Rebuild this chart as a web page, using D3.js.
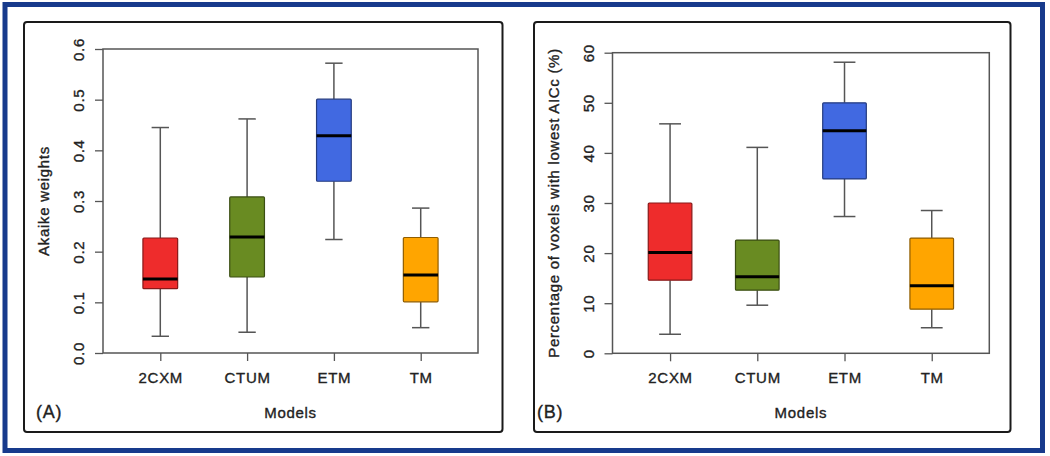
<!DOCTYPE html>
<html>
<head>
<meta charset="utf-8">
<script src="https://cdn.jsdelivr.net/npm/d3@7/dist/d3.min.js"></script>
<style>
  html, body { margin: 0; padding: 0; background: #fff; }
  svg text { font-family: "Liberation Sans", Arial, sans-serif; fill: #222; stroke: #222; stroke-width: 0.35px; letter-spacing: 0.7px; }
</style>
</head>
<body>
<svg id="chart" width="1050" height="456"></svg>
<script>
// ---- Data ----
const categories = ["2CXM", "CTUM", "ETM", "TM"];
const colors = ["#EE2C2C", "#698B22", "#4169E1", "#FFA500"];

// Panel A: Akaike weights  [lowerWhisker, Q1, median, Q3, upperWhisker]
const akaikeLow    = [0.033, 0.041, 0.224, 0.050];
const akaikeQ1     = [0.127, 0.150, 0.339, 0.101];
const akaikeMedian = [0.146, 0.229, 0.429, 0.154];
const akaikeQ3     = [0.227, 0.308, 0.501, 0.228];
const akaikeHigh   = [0.445, 0.462, 0.572, 0.286];
const akaikeTicks  = [0.0, 0.1, 0.2, 0.3, 0.4, 0.5, 0.6];

// Panel B: Percentage of voxels with lowest AICc (%)
const pctLow    = [3.8, 9.6, 27.3, 5.1];
const pctQ1     = [14.6, 12.6, 34.8, 8.8];
const pctMedian = [20.1, 15.3, 44.4, 13.5];
const pctQ3     = [30.0, 22.6, 50.0, 23.0];
const pctHigh   = [45.8, 41.1, 58.1, 28.5];
const pctTicks  = [0, 10, 20, 30, 40, 50, 60];

const svg = d3.select("#chart");

// Outer navy frame
svg.append("rect")
  .attr("x", 5).attr("y", 4.5).attr("width", 1037.5).attr("height", 446)
  .attr("fill", "none").attr("stroke", "#173a8c").attr("stroke-width", 5);

function panel(cfg) {
  const g = svg.append("g");
  // panel frame
  g.append("rect")
    .attr("x", cfg.frame[0]).attr("y", cfg.frame[1])
    .attr("width", cfg.frame[2] - cfg.frame[0]).attr("height", cfg.frame[3] - cfg.frame[1])
    .attr("rx", 3).attr("fill", "none").attr("stroke", "#1a1a1a").attr("stroke-width", 2);

  const [pl, pt, pr, pb] = cfg.plot;
  const x = d3.scaleLinear().domain([0.34, 4.66]).range([pl, pr]);
  const y = d3.scaleLinear().domain(cfg.domain).range([pb, pt]);

  // plot box
  g.append("rect")
    .attr("x", pl).attr("y", pt).attr("width", pr - pl).attr("height", pb - pt)
    .attr("fill", "none").attr("stroke", "#555").attr("stroke-width", 1.5);

  // y axis
  const yAxis = g.append("g").attr("transform", `translate(${pl},0)`)
    .call(d3.axisLeft(y).tickValues(cfg.ticks).tickSize(8).tickFormat(cfg.fmt));
  yAxis.select(".domain").remove();
  yAxis.selectAll(".tick line").attr("stroke", "#555").attr("stroke-width", 1.3);
  yAxis.selectAll(".tick text")
    .attr("x", null).attr("dy", null)
    .attr("transform", `translate(${cfg.tickLabelX - pl},0) rotate(-90)`)
    .attr("text-anchor", "middle").attr("dominant-baseline", "central")
    .style("font-size", "15px");

  // x axis (ticks only, offset below)
  const xAxis = g.append("g").attr("transform", `translate(0,${pb})`)
    .call(d3.axisBottom(x).tickValues([1, 2, 3, 4]).tickSize(8)
      .tickFormat((d) => categories[d - 1]));
  xAxis.select(".domain").remove();
  xAxis.selectAll(".tick line").attr("stroke", "#555").attr("stroke-width", 1.3);
  xAxis.selectAll(".tick text").attr("y", 24.5).attr("dy", null)
    .attr("dominant-baseline", "central")
    .style("font-size", "15px");

  const unit = x(2) - x(1);
  const bw = cfg.boxwex * unit;
  const sw = bw * 0.5;

  categories.forEach((c, i) => {
    const cx = x(i + 1);
    const d = { lo: cfg.low[i], q1: cfg.q1[i], med: cfg.med[i], q3: cfg.q3[i], hi: cfg.high[i] };
    // whiskers
    g.append("line").attr("x1", cx).attr("x2", cx).attr("y1", y(d.q3)).attr("y2", y(d.hi))
      .attr("stroke", "#555").attr("stroke-width", 1.5);
    g.append("line").attr("x1", cx).attr("x2", cx).attr("y1", y(d.q1)).attr("y2", y(d.lo))
      .attr("stroke", "#555").attr("stroke-width", 1.5);
    // staples
    g.append("line").attr("x1", cx - sw / 2).attr("x2", cx + sw / 2).attr("y1", y(d.hi)).attr("y2", y(d.hi))
      .attr("stroke", "#555").attr("stroke-width", 1.5);
    g.append("line").attr("x1", cx - sw / 2).attr("x2", cx + sw / 2).attr("y1", y(d.lo)).attr("y2", y(d.lo))
      .attr("stroke", "#555").attr("stroke-width", 1.5);
    // box
    g.append("rect").attr("x", cx - bw / 2).attr("y", y(d.q3))
      .attr("width", bw).attr("height", y(d.q1) - y(d.q3))
      .attr("rx", 1)
      .attr("fill", colors[i]).attr("stroke", d3.color(colors[i]).darker(1.6)).attr("stroke-width", 1.2);
    // median
    g.append("line").attr("x1", cx - bw / 2).attr("x2", cx + bw / 2)
      .attr("y1", y(d.med)).attr("y2", y(d.med))
      .attr("stroke", "#000").attr("stroke-width", 3);
  });

  // axis titles
  g.append("text")
    .attr("transform", `translate(${cfg.yTitleX},${(pt + pb) / 2}) rotate(-90)`)
    .attr("text-anchor", "middle").attr("dominant-baseline", "central")
    .style("font-size", "15px").text(cfg.yTitle);
  g.append("text")
    .attr("x", (pl + pr) / 2).attr("y", 412)
    .attr("text-anchor", "middle").attr("dominant-baseline", "central")
    .style("font-size", "15px").text("Models");
  g.append("text")
    .attr("x", cfg.labelX).attr("y", 412)
    .attr("dominant-baseline", "central")
    .style("font-size", "18px").text(cfg.label);
}

panel({
  frame: [24, 22, 502.5, 432],
  plot: [103, 49, 478, 353],
  domain: [0, 0.6],
  ticks: akaikeTicks,
  fmt: d3.format(".1f"),
  tickLabelX: 78,
  yTitleX: 43,
  yTitle: "Akaike weights",
  low: akaikeLow, q1: akaikeQ1, med: akaikeMedian, q3: akaikeQ3, high: akaikeHigh,
  boxwex: 0.4,
  label: "(A)", labelX: 36
});

panel({
  frame: [534, 22, 1010.5, 432],
  plot: [612.5, 52.7, 989.3, 353.3],
  domain: [0, 60],
  ticks: pctTicks,
  fmt: d3.format("d"),
  tickLabelX: 588,
  yTitleX: 553,
  yTitle: "Percentage of voxels with lowest AICc (%)",
  low: pctLow, q1: pctQ1, med: pctMedian, q3: pctQ3, high: pctHigh,
  boxwex: 0.5,
  label: "(B)", labelX: 537
});
</script>
</body>
</html>
